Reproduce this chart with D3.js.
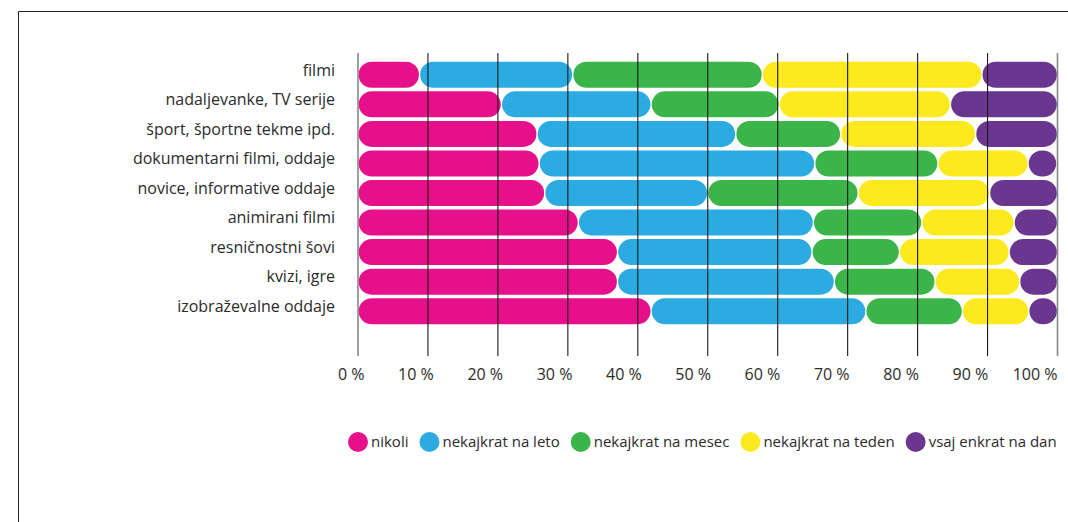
<!DOCTYPE html>
<html>
<head>
<meta charset="utf-8">
<script src="https://cdn.jsdelivr.net/npm/d3@7"></script>
<style>
  body { margin: 0; background: #fff; }
  svg { display: block; font-family: 'Open Sans', sans-serif; }
</style>
</head>
<body>
<svg id="chart" width="1068" height="522"></svg>
<script>
const categories = [
  'filmi',
  'nadaljevanke, TV serije',
  'šport, športne tekme ipd.',
  'dokumentarni filmi, oddaje',
  'novice, informative oddaje',
  'animirani filmi',
  'resničnostni šovi',
  'kvizi, igre',
  'izobraževalne oddaje'
]
const seriesNames = ['nikoli', 'nekajkrat na leto', 'nekajkrat na mesec', 'nekajkrat na teden', 'vsaj enkrat na dan']
const nikoli = [8.8, 20.5, 25.6, 25.9, 26.7, 31.5, 37.1, 37.1, 41.9]
const naLeto = [21.9, 21.4, 28.4, 39.4, 23.3, 33.6, 27.8, 31.0, 30.7]
const naMesec = [27.1, 18.3, 15.0, 17.6, 21.5, 15.5, 12.5, 14.4, 13.8]
const naTeden = [31.4, 24.5, 19.3, 12.9, 18.8, 13.2, 15.7, 12.1, 9.5]
const naDan = [10.8, 15.3, 11.7, 4.1, 9.7, 6.2, 6.9, 5.4, 4.1]
const ticks = [0, 10, 20, 30, 40, 50, 60, 70, 80, 90, 100]
const colors = ['#e6118a', '#2caae2', '#3bb54a', '#fcea1f', '#6a3690']

const svg = d3.select('#chart')

// frame
svg.append('path')
  .attr('d', 'M18.5,522V11.5H1068')
  .attr('fill', 'none')
  .attr('stroke', '#222')
  .attr('stroke-width', 1)

const x = d3.scaleLinear().domain([0, 100]).range([358, 1057.5])
const y = d3.scaleBand().domain(categories).range([60, 326]).paddingInner(0.12).paddingOuter(0.06)

const table = categories.map((c, i) => {
  const row = { cat: c }
  row[seriesNames[0]] = nikoli[i]
  row[seriesNames[1]] = naLeto[i]
  row[seriesNames[2]] = naMesec[i]
  row[seriesNames[3]] = naTeden[i]
  row[seriesNames[4]] = naDan[i]
  return row
})
const stacked = d3.stack().keys(seriesNames)(table)

const h = y.bandwidth()
svg.append('g')
  .selectAll('g')
  .data(stacked)
  .join('g')
    .attr('fill', (d, i) => colors[i])
  .selectAll('rect')
  .data(d => d)
  .join('rect')
    .attr('x', d => x(d[0]) + 0.6)
    .attr('y', d => y(d.data.cat))
    .attr('width', d => x(d[1]) - x(d[0]) - 1.2)
    .attr('height', h)
    .attr('rx', d => Math.min(h / 2, (x(d[1]) - x(d[0]) - 1.2) / 2))

// gridlines on top of bars
svg.append('g')
  .selectAll('line')
  .data(ticks)
  .join('line')
    .attr('x1', d => x(d)).attr('x2', d => x(d))
    .attr('y1', 53).attr('y2', 356)
    .attr('stroke', d => (d === 0 || d === 100) ? '#888' : '#1a1a1a')
    .attr('stroke-width', d => (d === 0 || d === 100) ? 1.6 : 1.1)

// category labels (sit a little above the bar centres)
svg.append('g')
  .attr('transform', 'translate(335,-4.3)')
  .call(d3.axisLeft(y).tickSize(0).tickPadding(0))
  .call(g => g.select('.domain').remove())
  .call(g => g.selectAll('text')
    .attr('font-family', "'Open Sans', sans-serif")
    .attr('font-size', 16)
    .attr('fill', '#2b2b2b'))

// percent labels, right-aligned near each gridline
const xl = d3.scaleLinear().domain([0, 100]).range([364, 1057])
svg.append('g')
  .attr('transform', 'translate(0,369)')
  .call(d3.axisBottom(xl).tickValues(ticks).tickSize(0).tickPadding(0).tickFormat(d => d + ' %'))
  .call(g => g.select('.domain').remove())
  .call(g => g.selectAll('text')
    .attr('text-anchor', 'end')
    .attr('font-family', "'Open Sans', sans-serif")
    .attr('font-size', 16)
    .attr('fill', '#2b2b2b'))

// legend
const legend = svg.append('g').attr('transform', 'translate(0,442)')
let lx = 348
seriesNames.forEach((name, i) => {
  legend.append('circle')
    .attr('cx', lx + 10)
    .attr('cy', 0)
    .attr('r', 10)
    .attr('fill', colors[i])
  const t = legend.append('text')
    .attr('x', lx + 23)
    .attr('y', 0)
    .attr('dy', '0.35em')
    .attr('font-size', 15)
    .attr('fill', '#2b2b2b')
    .text(name)
  lx = lx + 23 + t.node().getComputedTextLength() + 11
})
</script>
</body>
</html>
